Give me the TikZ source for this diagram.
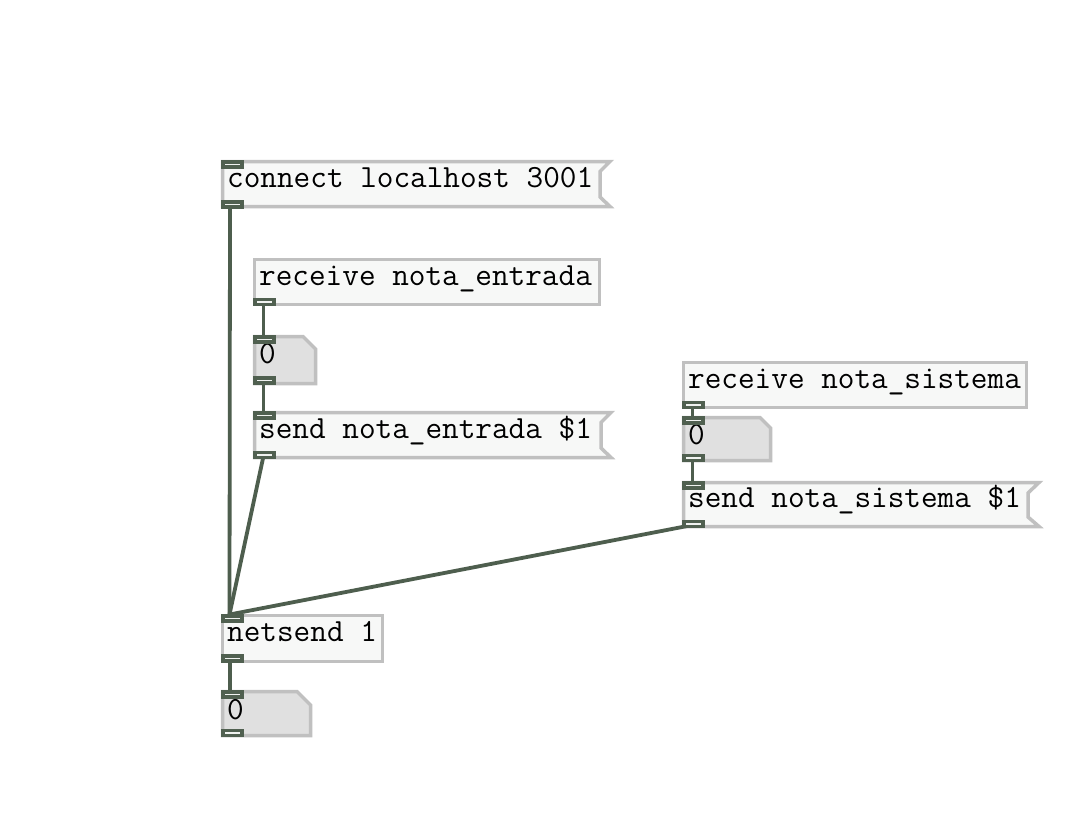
\documentclass[tikz,border=0pt]{standalone}
\usepackage{fontspec}
\definecolor{boxline}{RGB}{192,192,192}
\definecolor{boxfill}{RGB}{247,248,247}
\definecolor{numfill}{RGB}{224,224,224}
\definecolor{iodark}{RGB}{80,96,80}
\definecolor{iolight}{RGB}{240,242,240}
\definecolor{wirecol}{RGB}{78,94,78}
\tikzset{
  pdbox/.style={draw=boxline, fill=boxfill, line width=3.5pt, line join=miter},
  pdnum/.style={draw=boxline, fill=numfill, line width=3.5pt, line join=miter},
  pdio/.style={rectangle, draw=iodark, fill=iolight, line width=3.6pt, minimum width=19pt, minimum height=5pt, inner sep=0pt},
  pdwire/.style={draw=wirecol, line width=3.8pt},
  pdtext/.style={font=\ttfamily\fontsize{32.3}{35}\selectfont, inner sep=0pt, anchor=base west, text=black}
}
\begin{document}
\begin{tikzpicture}[x=1pt,y=-1pt]
\fill[white] (0,0) rectangle (1067,831);
\useasboundingbox (0,0) rectangle (1067,831);
% --- boxes ---
% A: message connect localhost 3001
\draw[pdbox] (222.5,161.5) -- (610,161.5) -- (600,171.5) -- (600,197) -- (610,206.5) -- (222.5,206.5) -- cycle;
% B: object receive nota_entrada
\draw[pdbox] (254.5,259.5) rectangle (599.5,304.5);
% C: number
\draw[pdnum] (254.5,336.5) -- (303,336.5) -- (315.5,349) -- (315.5,383.5) -- (254.5,383.5) -- cycle;
% D: message send nota_entrada $1
\draw[pdbox] (254.5,412.5) -- (611,412.5) -- (601,422.5) -- (601,448) -- (611,457.5) -- (254.5,457.5) -- cycle;
% E: object receive nota_sistema
\draw[pdbox] (683.5,362.5) rectangle (1026.5,407.5);
% F: number
\draw[pdnum] (683.5,417.5) -- (760,417.5) -- (770.5,428) -- (770.5,460.5) -- (683.5,460.5) -- cycle;
% G: message send nota_sistema $1
\draw[pdbox] (683.5,482.5) -- (1039,482.5) -- (1028,493) -- (1028,517) -- (1039,526.5) -- (683.5,526.5) -- cycle;
% H: object netsend 1
\draw[pdbox] (222.5,615.5) rectangle (382.5,661.5);
% I: number
\draw[pdnum] (222.5,691.5) -- (297,691.5) -- (310.5,705) -- (310.5,735.5) -- (222.5,735.5) -- cycle;
% --- texts ---
\node[pdtext] (tA) at (227,187.5) {connect localhost 3001};
\node[pdtext] (tB) at (259,285.5) {receive nota\_entrada};
\node[pdtext] (tC) at (259,363) {0};
\node[pdtext] (tD) at (259,438.5) {send nota\_entrada \$1};
\node[pdtext] (tE) at (688,388.5) {receive nota\_sistema};
\node[pdtext] (tF) at (688,444) {0};
\node[pdtext] (tG) at (688,507.5) {send nota\_sistema \$1};
\node[pdtext] (tH) at (227,641.5) {netsend 1};
\node[pdtext] (tI) at (227,719) {0};
% --- inlet / outlet coordinates ---
\coordinate (iA) at (232.5,164.5);
\coordinate (oA) at (232.5,204.5);
\coordinate (oB) at (264.5,302);
\coordinate (iC) at (264.5,339.5);
\coordinate (oC) at (264.5,380.5);
\coordinate (iD) at (264.5,415.5);
\coordinate (oD) at (264.5,455);
\coordinate (oE) at (693.5,405);
\coordinate (iF) at (693.5,420.5);
\coordinate (oF) at (693.5,458);
\coordinate (iG) at (693.5,485.5);
\coordinate (oG) at (693.5,524);
\coordinate (iH) at (232.5,618.5);
\coordinate (oH) at (232.5,658.5);
\coordinate (iI) at (232.5,694.5);
\coordinate (oI) at (232.5,733);
% --- wires ---
\draw[pdwire] ([xshift=-2.5pt]oA) -- ([xshift=-3pt,yshift=4pt]iH);
\draw[pdwire] ([xshift=-1pt]oB) -- ([xshift=-1pt]iC);
\draw[pdwire] ([xshift=-1pt]oC) -- ([xshift=-1pt]iD);
\draw[pdwire] ([xshift=-1pt,yshift=-1pt]oD) -- ([xshift=-3pt,yshift=4pt]iH);
\draw[pdwire] ([xshift=-1pt]oE) -- ([xshift=-1pt]iF);
\draw[pdwire] ([xshift=-1pt]oF) -- ([xshift=-1pt]iG);
\draw[pdwire] ([xshift=-1pt,yshift=-1pt]oG) -- ([xshift=-3pt,yshift=4pt]iH);
\draw[pdwire] ([xshift=-2.5pt]oH) -- ([xshift=-2.5pt]iI);
% --- inlets / outlets ---
\foreach \p in {iA,oA,oB,iC,oC,iD,oD,oE,iF,oF,iG,oG,iH,oH,iI,oI}
  \node[pdio] (n\p) at (\p) {};
\end{tikzpicture}
\end{document}
